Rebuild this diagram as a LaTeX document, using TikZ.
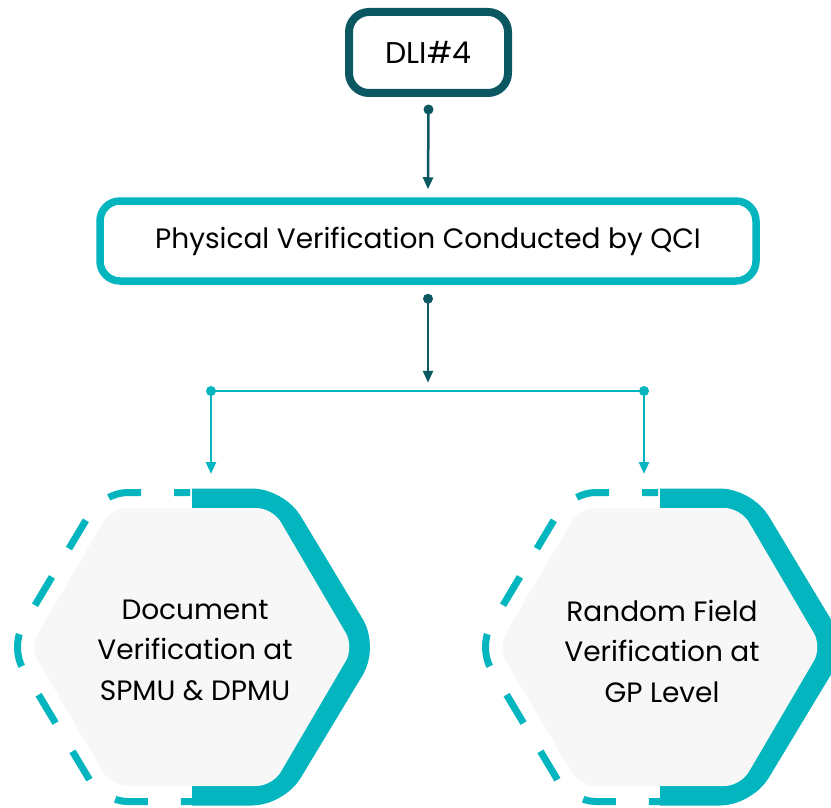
\documentclass[tikz,border=0pt]{standalone}
\usepackage{fontspec}
\setmainfont{Poppins}
\usetikzlibrary{arrows.meta,calc}
\definecolor{dtealc}{HTML}{0B5862}
\definecolor{tealc}{HTML}{02B5BE}
\definecolor{hexfill}{HTML}{F7F7F7}
\newcommand{\drawhexshape}[2]{%
  % thick solid band on the right half
  \draw[line width=25pt, tealc, rounded corners=25pt]
    (#1,{#2-146}) -- ({#1+85},{#2-146}) -- ({#1+173},#2)
    -- ({#1+85},{#2+146}) -- (#1,{#2+146});
  % dashed left half
  \draw[line width=7pt, tealc, rounded corners=25pt,
    dash pattern=on 0pt off 2pt on 16pt off 33pt on 33pt off 33pt on 33pt off 33pt on 33pt off 33pt on 33pt off 33pt on 33pt off 33pt on 33pt off 33pt on 33pt off 33pt on 16pt off 2pt]
    (#1,{#2-154.5}) -- ({#1-89.5},{#2-154.5}) -- ({#1-182},#2)
    -- ({#1-89.5},{#2+154.5}) -- (#1,{#2+154.5});
  % light fill
  \fill[hexfill, rounded corners=16pt]
    (#1,{#2-139}) -- ({#1+80.5},{#2-139}) -- ({#1+162},#2)
    -- ({#1+80.5},{#2+139}) -- ({#1-80.5},{#2+139}) -- ({#1-162},#2)
    -- ({#1-80.5},{#2-139}) -- cycle;
}
\begin{document}
\begin{tikzpicture}[x=1pt,y=-1pt,
  dlibox/.style={draw=dtealc, line width=8pt, rounded corners=20pt, fill=white,
    minimum width=159pt, minimum height=81pt, inner sep=0pt,
    font=\fontsize{30}{36}\selectfont},
  pvbox/.style={draw=tealc, line width=7.5pt, rounded corners=20pt, fill=white,
    minimum width=656pt, minimum height=80pt, inner sep=0pt,
    font=\fontsize{28}{34}\selectfont},
  hextext/.style={align=center, inner sep=0pt, font=\fontsize{28}{40.5}\selectfont},
  darkconn/.style={draw=dtealc, line width=2.5pt, -{Triangle[width=10pt,length=12pt]}},
  tealconn/.style={draw=tealc, line width=2.5pt, -{Triangle[width=10pt,length=12pt]}},
  tealline/.style={draw=tealc, line width=2.5pt},
]
\useasboundingbox (0,0) rectangle (831,808);
\clip (0,0) rectangle (831,808);
\fill[white] (0,0) rectangle (831,808);

% hexagon shapes
\drawhexshape{192}{647}
\drawhexshape{660}{647}

% nodes
\node[dlibox] (dli) at (428.5,52.5) {DLI\#4};
\node[pvbox] (pv) at (428,241) {Physical Verification Conducted by QCI};
\node[hextext] (hexL) at (195,650) {Document\\Verification at\\SPMU \& DPMU};
\node[hextext] (hexR) at (662,651) {Random Field\\Verification at\\GP Level};

% connector coordinates
\coordinate (a1s) at ($(dli.south)+(0,12.5)$);
\coordinate (a1e) at ($(pv.north)+(0,-8)$);
\coordinate (a2s) at ($(pv.south)+(0,14)$);
\coordinate (a2e) at ($(pv.south)+(0,98)$);
\coordinate (jl) at (211,391);
\coordinate (jr) at (644,391);
\coordinate (tl) at (211,474);
\coordinate (tr) at (644,474);

\draw[darkconn] (a1s) -- (a1e);
\fill[dtealc] (a1s) circle (5pt);
\draw[darkconn] (a2s) -- (a2e);
\fill[dtealc] (a2s) circle (5pt);

\draw[tealline] (jl) -- (jr);
\draw[tealconn] (jl) -- (tl);
\draw[tealconn] (jr) -- (tr);
\fill[tealc] (jl) circle (5pt);
\fill[tealc] (jr) circle (5pt);
\end{tikzpicture}
\end{document}
